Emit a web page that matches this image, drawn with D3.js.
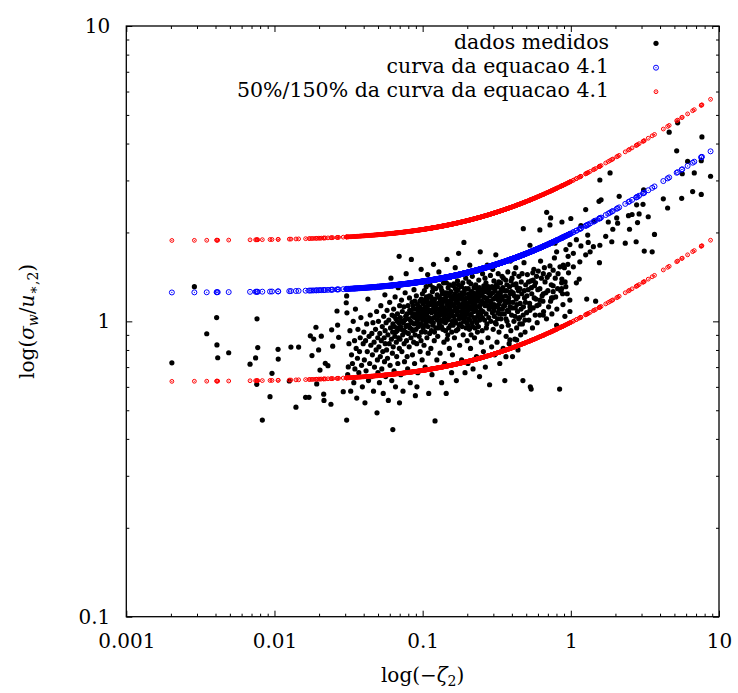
<!DOCTYPE html>
<html>
<head>
<meta charset="utf-8">
<script src="https://cdn.jsdelivr.net/npm/d3@7"></script>
<style>
  body { margin: 0; background: #fff; }
  svg { display: block; }
  text { font-family: "DejaVu Serif", serif; fill: #000; }
</style>
</head>
<body>
<svg id="chart" width="738" height="693"></svg>
<script>
// measured points [zeta, sigma_w/u], sparse left part
const sparseLeft = [
  [0.00203,0.724],[0.00288,1.31],[0.00349,0.908],[0.00407,1.03],[0.00409,0.832],[0.00414,0.753],
  [0.00491,0.783],[0.00684,0.716],[0.00746,0.752],[0.00762,1.02],[0.00771,0.815],[0.00759,0.612],
  [0.00828,0.463],[0.00933,0.556],[0.00962,0.667],[0.01057,0.804],[0.0106,0.745],[0.01259,0.628],
  [0.01291,0.818],[0.01455,0.818],[0.01396,0.512],[0.01622,0.553],[0.0171,0.553],[0.01746,0.893],
  [0.0184,0.871],[0.01905,0.955],[0.01791,0.766],[0.01928,0.614],[0.02028,0.684],[0.01986,0.80],
  [0.0207,0.891],[0.02148,0.567],[0.02158,0.54],[0.02203,0.721],[0.02296,0.708],[0.02404,0.524],
  [0.02432,0.936],[0.02472,0.824],[0.02642,1.084],[0.02667,0.971],[0.0271,0.883],[0.0307,1.219],
  [0.0305,1.156],[0.03083,1.069],[0.02911,0.578],[0.03148,0.701],[0.0307,0.463]
]

// main cloud, 0.03 < zeta < 0.08
const cloudLow = [
  [0.0312,0.66],[0.0318,0.84],[0.0323,0.93],[0.0327,0.58],[0.0331,0.77],[0.0336,0.72],[0.0340,1.00],[0.0343,0.62],[0.0347,0.86],[0.0349,0.69],
  [0.0352,1.10],[0.0356,0.81],[0.0359,0.55],[0.0363,0.75],[0.0366,0.94],[0.0371,0.67],[0.0375,0.79],[0.0379,0.88],[0.0383,1.03],[0.0387,0.71],[0.0392,0.60],[0.0397,0.84],
  [0.0401,0.92],[0.0404,0.74],[0.0408,0.53],[0.0412,0.86],[0.0415,0.68],[0.0419,0.98],[0.0423,0.79],[0.0427,1.19],[0.0431,0.63],[0.0435,0.89],[0.0439,0.72],[0.0443,1.05],[0.0447,0.83],
  [0.0451,0.65],[0.0454,0.91],[0.0458,0.77],[0.0462,0.99],[0.0466,0.58],[0.0470,0.85],[0.0473,0.70],[0.0477,1.30],[0.0481,0.94],[0.0485,0.80],[0.0489,1.08],[0.0492,0.49],[0.0495,0.74],[0.0498,0.88],[0.0499,0.67],
  [0.0503,1.00],[0.0507,0.82],[0.0511,0.62],[0.0514,0.91],[0.0518,0.76],[0.0522,1.13],[0.0526,0.86],[0.0530,0.69],[0.0534,0.96],[0.0538,0.79],[0.0542,0.57],[0.0546,1.04],[0.0550,0.88],[0.0553,0.73],[0.0556,1.23],[0.0558,0.93],[0.0559,0.84],
  [0.0563,0.65],[0.0567,0.99],[0.0571,0.80],[0.0575,1.09],[0.0579,0.75],[0.0583,0.90],[0.0587,0.54],[0.0591,1.01],[0.0595,0.84],[0.0599,1.16],[0.0603,0.71],[0.0607,0.95],[0.0611,1.40],[0.0615,0.87],[0.0619,0.63],[0.0622,1.05],[0.0625,0.78],[0.0627,0.92],[0.0629,0.43],[0.0630,0.98],
  [0.0633,0.82],[0.0637,1.10],[0.0641,0.68],[0.0645,0.96],[0.0649,0.89],[0.0652,1.21],[0.0656,0.60],[0.0660,1.02],[0.0664,0.85],[0.0668,0.76],[0.0672,0.93],[0.0676,1.06],[0.0680,0.72],[0.0684,1.30],[0.0688,0.88],[0.0691,0.99],[0.0694,1.66],[0.0696,0.81],[0.0698,0.53],[0.0699,1.13],[0.0674,1.00],[0.0658,0.92],[0.0643,1.04],[0.0686,0.95],
  [0.0703,0.87],[0.0707,1.03],[0.0712,0.66],[0.0716,0.94],[0.0720,1.18],[0.0724,0.79],[0.0729,1.08],[0.0733,0.90],[0.0737,0.58],[0.0741,0.99],[0.0746,1.12],[0.0750,0.84],[0.0754,0.73],[0.0758,1.01],[0.0762,1.25],[0.0766,0.92],[0.0770,0.96],[0.0774,1.45],[0.0778,0.86],[0.0782,1.06],[0.0786,0.76],[0.0789,0.97],[0.0726,1.00],[0.0744,0.93],[0.0768,1.04],[0.0709,0.96]
]

// main cloud, 0.08 < zeta < 0.28
const cloudCore = [
  [0.0792,0.69],[0.0796,1.13],[0.0801,0.91],[0.0806,1.02],[0.0811,0.82],[0.0815,1.20],[0.0820,0.95],[0.0825,0.62],[0.0830,1.07],[0.0834,0.88],[0.0839,1.62],[0.0843,0.99],[0.0848,1.16],[0.0853,0.77],[0.0857,1.04],[0.0861,0.93],[0.0866,1.10],[0.0870,0.85],[0.0874,1.28],[0.0878,0.98],[0.0882,0.72],[0.0886,1.03],[0.0889,0.90],[0.0803,0.97],[0.0818,1.09],[0.0832,1.00],[0.0846,0.94],[0.0859,1.13],[0.0872,1.06],[0.0884,1.17],
  [0.0893,0.56],[0.0897,1.05],[0.0902,0.94],[0.0907,1.22],[0.0912,0.84],[0.0917,1.00],[0.0922,1.14],[0.0927,0.67],[0.0932,1.08],[0.0937,0.96],[0.0942,1.36],[0.0947,0.89],[0.0952,1.03],[0.0957,1.17],[0.0962,0.79],[0.0967,1.11],[0.0972,0.98],[0.0977,1.50],[0.0982,0.92],[0.0987,1.06],[0.0992,0.74],[0.0996,1.24],[0.0999,1.01],[0.0905,1.10],[0.0920,0.99],[0.0935,1.02],[0.0950,1.12],[0.0965,1.05],[0.0980,1.19],[0.0995,1.09],[0.0915,0.60],[0.0975,0.86],
  [0.1004,1.15],[0.1009,0.95],[0.1015,1.08],[0.1021,0.83],[0.1027,1.27],[0.1033,1.02],[0.1039,0.70],[0.1045,1.12],[0.1051,0.99],[0.1057,1.31],[0.1063,1.05],[0.1069,0.88],[0.1075,1.19],[0.1081,1.44],[0.1087,0.96],[0.1093,1.09],[0.1099,0.57],[0.1105,1.03],[0.1110,1.22],[0.1115,0.91],[0.1118,1.14],[0.1012,1.04],[0.1024,1.18],[0.1036,0.97],[0.1048,1.06],[0.1060,1.21],[0.1072,1.00],[0.1084,1.13],[0.1096,1.01],[0.1108,1.08],[0.1030,1.10],[0.1066,1.16],[0.1090,0.78],[0.1042,0.92],
  [0.1123,1.33],[0.1129,1.00],[0.1136,0.81],[0.1142,1.16],[0.1149,1.07],[0.1156,0.66],[0.1163,1.26],[0.1170,0.97],[0.1177,1.10],[0.1184,1.56],[0.1191,1.03],[0.1198,0.86],[0.1205,1.19],[0.1212,0.46],[0.1219,1.12],[0.1226,0.95],[0.1233,1.38],[0.1240,1.05],[0.1247,0.74],[0.1254,1.23],[0.1259,1.01],[0.1126,1.09],[0.1139,1.21],[0.1153,1.02],[0.1166,1.14],[0.1180,0.99],[0.1194,1.17],[0.1208,1.08],[0.1222,1.29],[0.1236,1.14],[0.1250,1.06],[0.1146,0.93],[0.1174,1.30],[0.1202,0.92],[0.1230,1.11],[0.1160,1.18],
  [0.1264,0.89],[0.1271,1.15],[0.1279,1.04],[0.1287,1.47],[0.1295,0.98],[0.1303,1.20],[0.1311,0.78],[0.1319,1.09],[0.1327,1.30],[0.1335,1.01],[0.1343,0.62],[0.1351,1.13],[0.1359,1.24],[0.1367,0.94],[0.1375,1.06],[0.1383,1.35],[0.1391,0.85],[0.1399,1.17],[0.1405,1.03],[0.1409,0.72],[0.1268,1.10],[0.1283,1.21],[0.1299,1.07],[0.1315,1.17],[0.1331,1.12],[0.1347,1.27],[0.1363,1.09],[0.1379,1.19],[0.1395,1.11],[0.1275,0.95],[0.1307,1.00],[0.1339,0.96],[0.1371,1.00],[0.1403,1.25],[0.1291,1.32],[0.1323,1.05],[0.1355,1.15],[0.1387,1.08],
  [0.1415,1.10],[0.1424,0.99],[0.1433,1.21],[0.1442,0.57],[0.1451,1.06],[0.1460,1.62],[0.1469,1.14],[0.1478,0.90],[0.1487,1.30],[0.1496,1.03],[0.1505,1.17],[0.1514,0.81],[0.1523,1.10],[0.1532,1.41],[0.1541,0.97],[0.1550,1.26],[0.1559,1.07],[0.1568,0.67],[0.1575,1.20],[0.1579,1.00],[0.1419,1.18],[0.1437,1.08],[0.1455,1.25],[0.1473,1.01],[0.1491,1.16],[0.1509,1.12],[0.1527,1.22],[0.1545,1.13],[0.1563,1.15],[0.1428,0.93],[0.1464,0.87],[0.1500,0.95],[0.1536,1.04],[0.1572,0.92],[0.1446,1.35],[0.1482,1.09],[0.1518,1.33],[0.1554,1.18],
  [0.1589,0.77],[0.1599,1.14],[0.1609,1.32],[0.1619,1.04],[0.1629,1.22],[0.1639,0.88],[0.1649,1.11],[0.1659,1.52],[0.1669,0.99],[0.1679,1.18],[0.1689,0.63],[0.1699,1.27],[0.1709,1.07],[0.1719,1.37],[0.1729,0.94],[0.1739,1.15],[0.1749,1.70],[0.1759,1.02],[0.1769,1.23],[0.1777,0.83],[0.1594,1.08],[0.1614,1.19],[0.1634,1.13],[0.1654,1.24],[0.1674,1.09],[0.1694,1.16],[0.1714,1.21],[0.1734,1.28],[0.1754,1.12],[0.1604,0.97],[0.1644,1.01],[0.1684,0.93],[0.1724,1.05],[0.1764,0.97],[0.1624,1.34],[0.1664,1.29],[0.1704,1.10],[0.1744,1.33],
  [0.1789,1.19],[0.1800,0.98],[0.1811,1.44],[0.1822,1.08],[0.1833,0.74],[0.1844,1.25],[0.1855,1.05],[0.1866,1.35],[0.1877,0.90],[0.1888,1.16],[0.1899,1.85],[0.1910,1.02],[0.1921,1.28],[0.1932,0.67],[0.1943,1.12],[0.1954,1.40],[0.1965,0.95],[0.1976,1.20],[0.1987,1.06],[0.1996,0.86],[0.1794,1.12],[0.1816,1.22],[0.1838,1.14],[0.1860,1.20],[0.1882,1.09],[0.1904,1.24],[0.1926,1.17],[0.1948,1.29],[0.1970,1.13],[0.1805,1.03],[0.1849,0.96],[0.1893,1.00],[0.1937,1.04],[0.1981,0.99],[0.1827,1.31],[0.1871,1.11],[0.1915,1.08],[0.1959,1.15],
  [0.2008,1.13],[0.2020,0.72],[0.2032,1.29],[0.2044,1.02],[0.2056,1.20],[0.2068,0.94],[0.2080,1.55],[0.2092,1.10],[0.2104,0.81],[0.2116,1.34],[0.2128,1.06],[0.2140,1.17],[0.2152,0.99],[0.2164,1.42],[0.2176,1.14],[0.2188,0.69],[0.2200,1.25],[0.2212,1.03],[0.2224,1.30],[0.2014,1.09],[0.2038,1.24],[0.2062,1.16],[0.2086,1.21],[0.2110,1.12],[0.2134,1.26],[0.2158,1.19],[0.2182,1.11],[0.2206,1.18],[0.2026,0.97],[0.2074,1.01],[0.2122,0.90],[0.2170,0.96],[0.2218,1.08],[0.2050,1.36],[0.2098,1.05],[0.2146,1.22],
  [0.2238,0.88],[0.2252,1.16],[0.2266,1.01],[0.2280,1.33],[0.2294,1.09],[0.2308,0.76],[0.2322,1.24],[0.2336,1.48],[0.2350,1.04],[0.2364,1.19],[0.2378,0.96],[0.2392,1.38],[0.2406,1.12],[0.2420,0.65],[0.2434,1.27],[0.2448,1.72],[0.2462,1.06],[0.2476,1.15],[0.2490,0.85],[0.2245,1.21],[0.2273,1.13],[0.2301,1.30],[0.2329,1.17],[0.2357,1.26],[0.2385,1.21],[0.2413,1.30],[0.2441,1.13],[0.2469,1.23],[0.2259,0.95],[0.2315,0.99],[0.2371,1.07],[0.2427,1.01],[0.2483,1.09],[0.2343,0.92],
  [0.2506,1.23],[0.2522,0.93],[0.2538,1.45],[0.2554,1.08],[0.2570,0.79],[0.2586,1.32],[0.2602,1.15],[0.2618,1.01],[0.2634,1.40],[0.2650,0.70],[0.2666,1.20],[0.2682,1.06],[0.2698,1.29],[0.2714,0.98],[0.2730,1.55],[0.2746,1.13],[0.2762,0.88],[0.2778,1.25],[0.2794,1.03],[0.2514,1.17],[0.2546,1.28],[0.2578,1.21],[0.2610,1.26],[0.2642,1.13],[0.2674,1.35],[0.2706,1.19],[0.2738,1.17],[0.2770,1.31],[0.2530,1.03],[0.2690,0.95]
]

// main cloud, 0.28 < zeta < 1
const cloudHigh = [
  [0.2812,1.10],[0.2830,0.61],[0.2848,1.22],[0.2866,1.43],[0.2884,1.00],[0.2902,1.15],[0.2920,0.82],[0.2938,1.31],[0.2956,1.07],[0.2974,1.50],[0.2992,0.94],[0.3010,1.19],[0.3028,1.37],[0.3046,1.04],[0.3064,0.77],[0.3082,1.27],[0.3100,1.12],[0.3118,1.68],[0.3136,0.98],[0.3154,1.22],[0.2821,1.29],[0.2857,1.17],[0.2893,1.24],[0.2929,1.12],[0.2965,1.25],[0.3001,1.30],[0.3037,1.14],[0.3073,1.20],
  [0.3175,0.85],[0.3195,1.31],[0.3215,1.07],[0.3235,1.45],[0.3255,1.14],[0.3275,0.92],[0.3295,1.25],[0.3315,0.72],[0.3335,1.17],[0.3355,1.35],[0.3375,1.02],[0.3395,1.21],[0.3415,0.96],[0.3435,1.42],[0.3455,1.10],[0.3475,1.30],[0.3495,0.81],[0.3515,1.13],[0.3535,1.27],[0.3185,1.20],[0.3225,1.24],[0.3265,1.36],[0.3305,1.06],[0.3385,1.28],
  [0.3560,1.06],[0.3585,0.63],[0.3610,1.17],[0.3635,1.38],[0.3660,0.89],[0.3685,1.27],[0.3710,1.00],[0.3735,1.09],[0.3760,1.47],[0.3785,0.97],[0.3810,1.20],[0.3835,0.84],[0.3860,1.31],[0.3885,1.12],[0.3910,1.60],[0.3935,0.93],[0.3960,1.26],[0.3985,1.05],[0.3620,1.22],[0.3870,1.16],
  [0.4010,1.40],[0.4040,0.76],[0.4070,1.16],[0.4100,1.33],[0.4130,1.00],[0.4160,1.22],[0.4190,0.87],[0.4220,1.11],[0.4250,1.52],[0.4280,1.19],[0.4310,0.95],[0.4340,1.30],[0.4370,1.08],[0.4400,0.80],[0.4430,1.27],[0.4460,1.42],
  [0.4510,1.03],[0.4550,1.15],[0.4590,0.90],[0.4630,1.36],[0.4670,1.24],[0.4710,0.98],[0.4750,0.63],[0.4790,1.12],[0.4830,1.58],[0.4870,1.20],[0.4910,0.92],[0.4960,1.33],
  [0.3025,1.09],[0.3090,0.99],[0.3145,1.33],[0.3205,1.02],[0.3245,1.18],[0.3285,1.10],[0.3345,1.24],[0.3405,1.06],[0.3445,1.19],[0.3505,1.40],[0.3575,1.13],[0.3650,1.02],[0.3700,1.33],[0.3750,1.16],[0.3800,1.08],[0.3900,1.24],[0.3950,1.37],[0.4025,1.11],[0.4085,1.25],[0.4145,1.45],[0.4205,1.04],[0.4265,1.34],[0.4325,1.14],[0.4385,1.21],[0.4445,1.02],[0.4530,1.29],[0.4610,1.10],[0.4690,1.45],[0.4770,1.05],[0.4850,1.27],[0.4940,1.16],
  [0.5030,1.07],[0.5090,1.44],[0.5150,1.28],[0.5210,1.01],[0.5270,1.15],[0.5330,0.60],[0.5390,1.37],[0.5450,1.24],[0.5510,0.95],[0.5570,1.11],[0.5630,1.50],[0.5690,1.32],[0.5750,1.05],[0.5810,1.19],[0.5870,1.42],[0.5930,0.99],[0.5990,1.28],[0.5400,0.59],
  [0.5060,1.22],[0.5180,1.36],[0.5300,1.12],[0.5420,1.30],[0.5540,1.46],[0.5660,1.20],[0.5780,1.35],[0.5900,1.13],
  [0.6100,1.14],[0.6250,1.60],[0.6400,1.22],[0.6550,1.08],[0.6700,1.36],[0.6850,1.02],[0.7000,1.27],[0.7150,1.44],[0.7300,1.17],[0.7450,1.06],[0.7600,1.32],[0.7750,1.64],[0.7900,1.21],[0.8050,1.10],[0.8200,1.45],[0.8400,0.59],[0.8550,1.27],[0.8700,1.39],[0.8850,1.14],[0.9050,1.52],[0.9250,1.31],[0.9450,1.24],[0.9650,1.46],[0.9850,1.18],
  [0.6030,1.48],[0.6180,1.29],[0.6330,1.40],[0.6480,1.17],[0.6630,1.52],[0.6780,1.25],[0.6930,1.41],[0.7080,1.12],[0.7230,1.54],[0.7380,1.33],[0.7530,1.20],[0.7850,1.40],[0.8150,1.29],[0.8450,1.53],[0.8800,1.24],[0.9150,1.36],[0.9550,1.56]
]

// upper right part
const rightSide = [
  [5.26,4.70],[4.61,4.37],[7.67,4.21],[5.18,3.78],[6.14,3.48],[5.65,3.16],[6.81,3.18],[8.77,3.10],
  [6.64,2.75],[7.59,2.69],[5.60,2.61],[4.21,2.60],[4.50,2.42],[7.59,3.50],[3.10,2.79],[3.67,1.97],
  [3.54,1.72],[3.13,1.73],[2.76,1.86],[2.33,1.84],[2.49,2.05],[2.82,2.16],[3.33,2.26],[3.07,2.49],
  [2.78,2.48],[2.59,2.30],[2.89,2.31],[2.12,2.65],[1.57,3.01],[1.84,3.18],[1.55,2.55],[1.60,2.58],
  [1.26,2.39],[0.687,2.34],[0.478,2.06],[0.731,2.24],[1.00,2.23],[0.871,2.17],[1.17,2.11],[1.44,2.19],
  [1.79,2.17],[2.04,2.24],[2.07,2.15],[1.92,2.05],[2.45,2.28],[1.72,1.94],[1.89,1.86],[1.57,1.81],
  [1.56,1.58],[1.26,1.68],[1.17,1.80],[1.09,1.89],[0.986,1.82],[0.927,1.75],[1.04,1.70],[1.31,1.85],
  [1.35,1.72],[1.42,1.79],[1.30,1.96],[0.723,2.12],[0.618,2.04],[0.530,1.81],[0.782,1.84],[0.802,1.72],
  [0.959,1.66],[1.15,1.59],[1.04,1.53],[0.889,1.55],[0.760,1.49],[0.652,1.45],[0.557,1.38],[0.867,1.35],
  [1.09,1.35],[1.14,1.39],[0.652,1.24],[0.760,1.26],[0.867,1.29],[0.618,1.18],[0.741,1.20],[1.28,1.19],
  [1.47,1.17],[0.986,1.08],[0.912,1.04],[0.652,1.05],[0.618,1.05],[0.530,1.09],[0.490,1.01],[0.453,0.98],
  [0.388,0.865],[0.431,0.865],[0.365,0.759],[0.802,0.97]
]

// equation 4.1: sigma_w/u = a (1 + b zeta)^(1/3)
const eqCoefA = 1.25
const eqCoefB = 3
const bandFactors = [0.5, 1.5]

const xTicks = [0.001, 0.01, 0.1, 1, 10]
const yTicks = [0.1, 1, 10]
const legendLabels = ['dados medidos', 'curva da equacao 4.1', '50%/150% da curva da equacao 4.1']

let measured = sparseLeft.concat(cloudLow, cloudCore, cloudHigh, rightSide)
const eq41 = z => eqCoefA * Math.pow(1 + eqCoefB * z, 1 / 3)

let width = 738
let height = 693
let padLeft = 126.3
let padRight = 19
let padTop = 26
let padBottom = 76.3

let svg = d3.select('#chart')
  .attr('width', width)
  .attr('height', height)

let xScale = d3.scaleLog().domain([0.001, 10]).range([padLeft, width - padRight])
let yScale = d3.scaleLog().domain([0.1, 10]).range([height - padBottom, padTop])

// minor ticks 2..9 in each decade
const minorOf = dom => {
  let out = []
  for (let e = Math.log10(dom[0]); e < Math.log10(dom[1]); e++) {
    for (let k = 2; k < 10; k++) out.push(k * Math.pow(10, e))
  }
  return out
}
let xMinor = minorOf(xScale.domain())
let yMinor = minorOf(yScale.domain())

let plot = svg.append('g')

plot.append('g').selectAll('circle')
  .data(measured)
  .join('circle')
  .attr('cx', d => xScale(d[0]))
  .attr('cy', d => yScale(d[1]))
  .attr('r', 2.6)
  .attr('fill', '#000')

const ring = (g, cx, cy, r, color) => {
  g.append('circle').attr('cx', cx).attr('cy', cy).attr('r', r)
    .attr('fill', 'none').attr('stroke', color).attr('stroke-width', 1)
  g.append('circle').attr('cx', cx).attr('cy', cy).attr('r', 0.6).attr('fill', color)
}

// curve drawn over the data at every measured zeta
let blueG = plot.append('g')
measured.forEach(d => ring(blueG, xScale(d[0]), yScale(eq41(d[0])), 2.5, '#0000ff'))

let redG = plot.append('g')
bandFactors.forEach(f => {
  measured.forEach(d => ring(redG, xScale(d[0]), yScale(f * eq41(d[0])), 1.9, '#ff0000'))
})

// ticks inward on all four sides
const styleAxis = g => {
  g.select('.domain').remove()
  g.attr('font-family', null)
  g.selectAll('line').attr('stroke', '#000').attr('stroke-width', 1)
  g.selectAll('text').style('font-size', '20px').attr('fill', '#000')
}
let fmt = d => String(d)
let innerH = height - padTop - padBottom
let innerW = width - padLeft - padRight

svg.append('g').attr('transform', 'translate(0,' + (height - padBottom) + ')')
  .call(d3.axisBottom(xScale).tickValues(xTicks).tickFormat(fmt).tickSizeInner(-6).tickSizeOuter(0).tickPadding(17))
  .call(styleAxis)
svg.append('g').attr('transform', 'translate(0,' + (height - padBottom) + ')')
  .call(d3.axisBottom(xScale).tickValues(xMinor).tickFormat('').tickSizeInner(-3).tickSizeOuter(0))
  .call(styleAxis)
svg.append('g').attr('transform', 'translate(0,' + padTop + ')')
  .call(d3.axisTop(xScale).tickValues(xTicks).tickFormat('').tickSizeInner(-6).tickSizeOuter(0))
  .call(styleAxis)
svg.append('g').attr('transform', 'translate(0,' + padTop + ')')
  .call(d3.axisTop(xScale).tickValues(xMinor).tickFormat('').tickSizeInner(-3).tickSizeOuter(0))
  .call(styleAxis)
svg.append('g').attr('transform', 'translate(' + padLeft + ',0)')
  .call(d3.axisLeft(yScale).tickValues(yTicks).tickFormat(fmt).tickSizeInner(-6).tickSizeOuter(0).tickPadding(16))
  .call(styleAxis)
svg.append('g').attr('transform', 'translate(' + padLeft + ',0)')
  .call(d3.axisLeft(yScale).tickValues(yMinor).tickFormat('').tickSizeInner(-3).tickSizeOuter(0))
  .call(styleAxis)
svg.append('g').attr('transform', 'translate(' + (width - padRight) + ',0)')
  .call(d3.axisRight(yScale).tickValues(yTicks).tickFormat('').tickSizeInner(-6).tickSizeOuter(0))
  .call(styleAxis)
svg.append('g').attr('transform', 'translate(' + (width - padRight) + ',0)')
  .call(d3.axisRight(yScale).tickValues(yMinor).tickFormat('').tickSizeInner(-3).tickSizeOuter(0))
  .call(styleAxis)

svg.append('rect')
  .attr('x', padLeft).attr('y', padTop)
  .attr('width', innerW).attr('height', innerH)
  .attr('fill', 'none').attr('stroke', '#000').attr('stroke-width', 1.3)

// axis titles
let xTitle = svg.append('text')
  .attr('x', padLeft + innerW / 2).attr('y', 682)
  .attr('text-anchor', 'middle').style('font-size', '20px')
xTitle.append('tspan').text('log(\u2212')
xTitle.append('tspan').style('font-style', 'italic').text('\u03b6')
xTitle.append('tspan').attr('dy', 4).style('font-size', '14px').text('2')
xTitle.append('tspan').attr('dy', -4).text(')')

let yTitle = svg.append('text')
  .attr('transform', 'translate(34,' + (padTop + innerH / 2) + ') rotate(-90)')
  .attr('text-anchor', 'middle').style('font-size', '20px')
yTitle.append('tspan').text('log(')
yTitle.append('tspan').style('font-style', 'italic').text('\u03c3')
yTitle.append('tspan').attr('dy', 4).style('font-size', '14px').style('font-style', 'italic').text('w')
yTitle.append('tspan').attr('dy', -4).text('/')
yTitle.append('tspan').style('font-style', 'italic').text('u')
yTitle.append('tspan').attr('dy', 4).style('font-size', '14px').text('\u2217,2')
yTitle.append('tspan').attr('dy', -4).text(')')

// legend
let legend = svg.append('g')
let rowY = [43.3, 67.7, 91.7]
legendLabels.forEach((lab, i) => {
  legend.append('text')
    .attr('x', 609).attr('y', rowY[i] + 5.5)
    .attr('text-anchor', 'end').style('font-size', '20.5px')
    .text(lab)
})
legend.append('circle').attr('cx', 656).attr('cy', rowY[0]).attr('r', 2.6).attr('fill', '#000')
ring(legend, 656, rowY[1], 2.5, '#0000ff')
ring(legend, 656, rowY[2], 1.9, '#ff0000')
</script>
</body>
</html>
